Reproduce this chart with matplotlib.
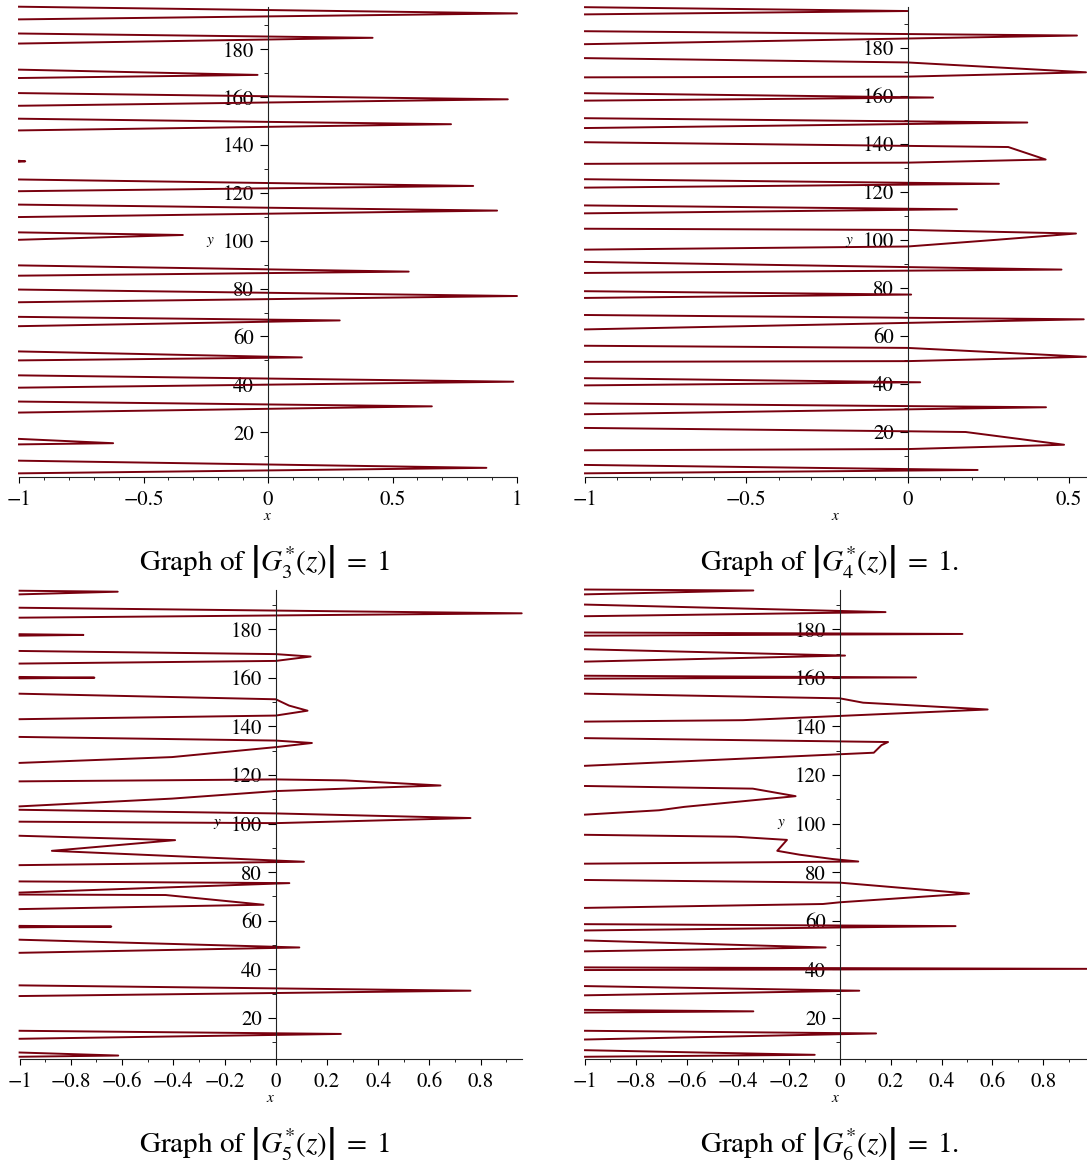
import matplotlib
matplotlib.use("Agg")
import numpy as np
import matplotlib.pyplot as plt

plt.rcParams['font.family'] = ['STIXGeneral', 'DejaVu Serif']
plt.rcParams['mathtext.fontset'] = 'stix'

curve_color = '#78000E'

# |G3*(z)| = 1, one list of x and one of y per branch
g3_x = [
    [-1, 1.00, -1],
    [-1, 0.42, -1],
    [-1, -0.042, -1],
    [-1, 0.963, -1],
    [-1, 0.735, -1],
    [-1, -0.975, -1],
    [-1, 0.824, -1],
    [-1, 0.92, -1],
    [-1, -0.342, -1],
    [-1, 0.565, -1],
    [-1, 1.00, -1],
    [-1, 0.288, -1],
    [-1, 0.136, -1],
    [-1, 0.985, -1],
    [-1, 0.658, -1],
    [-1, -0.622, -1],
    [-1, 0.877, -1],
]
g3_y = [
    [197.8, 195.0, 192.5],
    [186.6, 184.8, 182.4],
    [171.5, 169.3, 168.0],
    [161.7, 159.1, 156.4],
    [151.0, 148.7, 146.1],
    [133.4, 133.2, 133.0],
    [125.6, 122.9, 120.7],
    [115.1, 112.6, 109.9],
    [103.5, 102.4, 100.4],
    [89.7, 87.1, 85.4],
    [79.6, 76.9, 74.3],
    [68.2, 66.7, 64.3],
    [53.75, 51.25, 50.0],
    [43.75, 41.1, 38.6],
    [32.8, 30.8, 28.2],
    [17.2, 15.4, 14.9],
    [8.1, 5.1, 2.8],
]

# |G4*(z)| = 1
g4_x = [
    [-1, 0.0, -1],
    [-1, 0.525, -1],
    [-1, 0.0, 0.553, 0.0, -1],
    [-1, 0.079, -1],
    [-1, 0.371, -1],
    [-1, 0.312, 0.428, 0.0, -1],
    [-1, 0.283, -1],
    [-1, 0.153, -1],
    [-1, 0.0, 0.522, 0.276, 0.0, -1],
    [-1, 0.477, -1],
    [-1, 0.011, -1],
    [-1, 0.546, -1],
    [-1, 0.0, 0.553, 0.0, -1],
    [-1, 0.039, -1],
    [-1, 0.429, -1],
    [-1, 0.0, 0.18, 0.485, 0.0, -1],
    [-1, 0.217, -1],
]
g4_y = [
    [196.8, 195.2, 193.8],
    [186.8, 185.0, 181.4],
    [175.6, 173.8, 169.7, 167.9, 167.6],
    [161.0, 159.2, 157.9],
    [150.6, 148.8, 146.5],
    [140.6, 138.6, 133.4, 132.1, 131.6],
    [125.2, 123.3, 121.7],
    [114.3, 112.7, 111.0],
    [104.6, 104.1, 102.6, 100.0, 97.2, 95.9],
    [90.8, 87.6, 86.2],
    [78.6, 77.2, 75.8],
    [68.7, 66.9, 62.7],
    [55.9, 55.0, 51.3, 49.5, 49.2],
    [42.4, 40.7, 39.4],
    [31.9, 30.3, 27.4],
    [21.7, 20.3, 20.0, 14.7, 12.9, 12.4],
    [6.3, 4.2, 2.8],
]

# |G5*(z)| = 1
g5_x = [
    [-1, -0.617, -1],
    [-1, 0.96, -1],
    [-1, -0.751, -1],
    [-1, 0.0, 0.136, 0.0, -1],
    [-1, -0.708, -1],
    [-1, 0.0, 0.052, 0.124, 0.0, -1],
    [-1, 0.0, 0.141, 0.0, -0.405, -1],
    [-1, 0.0, 0.27, 0.643, 0.27, 0.0, -0.405, -1],
    [-1, 0.0, 0.76, 0.0, -1],
    [-1, -0.393, -0.874, 0.11, -1],
    [-1, 0.053, -1],
    [-1, -0.43, -0.048, -1],
    [-1, -0.642, -1],
    [-1, 0.092, -1],
    [-1, 0.76, -1],
    [-1, 0.254, -1],
    [-1, -0.615, -1],
]
g5_y = [
    [195.9, 195.5, 194.4],
    [188.9, 186.6, 184.8],
    [178.0, 177.7, 177.4],
    [171.1, 169.8, 168.8, 167.0, 165.9],
    [160.4, 160.1, 159.8],
    [153.5, 151.2, 148.6, 146.5, 144.5, 143.0],
    [135.7, 134.2, 133.2, 131.5, 127.4, 125.0],
    [117.4, 118.2, 117.8, 115.7, 114.4, 113.4, 110.3, 107.1],
    [105.7, 104.2, 102.3, 100.2, 100.8],
    [95.0, 93.2, 88.8, 84.3, 82.9],
    [76.2, 75.5, 71.6],
    [70.8, 70.6, 66.6, 64.8],
    [57.9, 57.6, 57.3],
    [52.2, 49.0, 46.8],
    [33.4, 31.2, 29.0],
    [14.7, 13.4, 11.4],
    [5.75, 4.5, 4.0],
]

# |G6*(z)| = 1
g6_x = [
    [-1, -0.339, -1],
    [-1, 0.18, -1],
    [-1, 0.482, -1],
    [-1, 0.021, -1],
    [-1, 0.30, -1],
    [-1, 0.0, 0.092, 0.581, -0.38, -1],
    [-1, 0.19, 0.164, 0.134, -1],
    [-1, -0.341, -0.173, -0.61, -0.709, -1],
    [-1, -0.407, -0.207, -0.245, -0.157, -0.026, 0.073, -1],
    [-1, 0.0, 0.508, 0.0, -0.066, -1],
    [-1, 0.455, -1],
    [-1, -0.055, -1],
    [-1, 0.97, -1],
    [-1, 0.077, -1],
    [-1, -0.339, -1],
    [-1, 0.143, -1],
    [-1, -0.098, -1],
]
g6_y = [
    [196.4, 196.0, 194.4],
    [190.2, 187.1, 185.4],
    [178.7, 178.1, 177.4],
    [171.8, 169.2, 166.7],
    [160.9, 160.2, 159.7],
    [153.5, 151.6, 149.8, 147.0, 142.6, 142.0],
    [135.2, 133.6, 132.3, 129.2, 123.8],
    [115.5, 114.4, 111.3, 106.9, 105.5, 103.7],
    [95.4, 94.6, 93.3, 88.8, 87.2, 85.4, 84.4, 83.5],
    [76.8, 75.7, 71.2, 67.6, 66.9, 65.3],
    [58.6, 57.8, 56.0],
    [51.9, 49.0, 47.4],
    [40.8, 40.2, 39.7],
    [33.1, 31.2, 29.3],
    [23.3, 22.7, 22.2],
    [14.7, 13.6, 11.1],
    [6.7, 4.8, 4.0],
]

titles = [
    r"Graph of $\left|G_3^{*}(z)\right|\;=\;1$",
    r"Graph of $\left|G_4^{*}(z)\right|\;=\;1.$",
    r"Graph of $\left|G_5^{*}(z)\right|\;=\;1$",
    r"Graph of $\left|G_6^{*}(z)\right|\;=\;1.$",
]

xt_coarse = [-1, -0.5, 0, 0.5, 1]
xt_coarse_lbl = ["\u22121", "\u22120.5", "0", "0.5", "1"]
xt_fine = [-1, -0.8, -0.6, -0.4, -0.2, 0, 0.2, 0.4, 0.6, 0.8]
xt_fine_lbl = ["\u22121", "\u22120.8", "\u22120.6", "\u22120.4", "\u22120.2",
               "0", "0.2", "0.4", "0.6", "0.8"]
yt = [20, 40, 60, 80, 100, 120, 140, 160, 180]
yt_minor = [10, 30, 50, 70, 90, 110, 130, 150, 170, 190]

W, H = 1087, 1167
fig = plt.figure(figsize=(W / 100, H / 100), dpi=100)

# axes boxes in pixels: left, top, right, bottom
boxes = [
    (19, 6.7, 517, 476.7),
    (585, 6.7, 1086, 476.7),
    (19.6, 590, 521.7, 1058.7),
    (585, 590, 1086.7, 1058.7),
]
xlims = [(-1, 1), (-1, 0.553), (-1, 0.96), (-1, 0.97)]
ylims = [(1.4, 197.8), (1.4, 197.0), (3.2, 196.2), (3.2, 196.2)]
all_x = [g3_x, g4_x, g5_x, g6_x]
all_y = [g3_y, g4_y, g5_y, g6_y]
xticks = [(xt_coarse, xt_coarse_lbl), (xt_coarse[:4], xt_coarse_lbl[:4]),
          (xt_fine, xt_fine_lbl), (xt_fine, xt_fine_lbl)]
title_pos = [(264.5, 562), (829.5, 562), (264.5, 1144), (829.5, 1144)]

for i in range(4):
    l, t, r, b = boxes[i]
    ax = fig.add_axes([l / W, 1 - b / H, (r - l) / W, (b - t) / H])
    for bx, by in zip(all_x[i], all_y[i]):
        ax.plot(bx, by, color=curve_color, lw=1.4, clip_on=False)
    ax.set_xlim(*xlims[i])
    ax.set_ylim(*ylims[i])

    for s in ['top', 'right']:
        ax.spines[s].set_visible(False)
    ax.spines['left'].set_position(('data', 0))
    for s in ['left', 'bottom']:
        ax.spines[s].set_linewidth(0.8)
        ax.spines[s].set_color('#222222')

    ticks, lbls = xticks[i]
    ax.set_xticks(ticks)
    ax.set_xticklabels(lbls)
    lo, hi = xlims[i]
    ax.set_xticks(np.round(np.arange(-1, hi + 1e-9, 0.1), 1), minor=True)
    ax.set_yticks(yt)
    ax.set_yticks([v for v in yt_minor if v <= ylims[i][1]], minor=True)

    ax.tick_params(axis='x', which='major', direction='out', length=4, width=0.8,
                   pad=6, labelsize=15)
    ax.tick_params(axis='x', which='minor', direction='out', length=2.5, width=0.6)
    ax.tick_params(axis='y', which='major', direction='out', length=6, width=0.8,
                   pad=4, labelsize=15)
    ax.tick_params(axis='y', which='minor', direction='out', length=3, width=0.6)

    ax.text(0.5, -0.085, r'$x$', transform=ax.transAxes, ha='center', va='center',
            fontsize=11)
    ax.annotate(r'$y$', xy=(0, 0.5), xycoords=('data', 'axes fraction'),
                xytext=(-58, 0), textcoords='offset pixels', ha='center',
                va='center', fontsize=11)

    tx, ty = title_pos[i]
    fig.text(tx / W, 1 - ty / H, titles[i], ha='center', va='center', fontsize=21)

fig.savefig('out.png', dpi=100)
